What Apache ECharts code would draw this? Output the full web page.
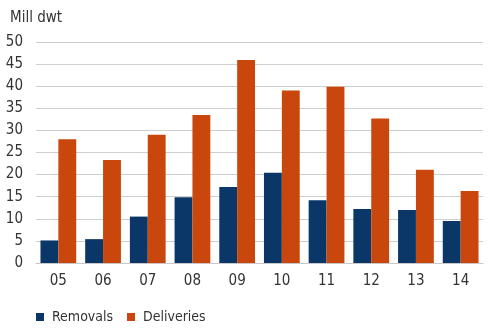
<!DOCTYPE html>
<html><head><meta charset="utf-8">
<script src="https://cdn.jsdelivr.net/npm/echarts@6/dist/echarts.min.js"></script>
<style>html,body{margin:0;padding:0;background:#fff}#c{width:492px;height:328px}</style>
</head><body><div id="c"></div>
<script>
const categories = ['05','06','07','08','09','10','11','12','13','14'];
const removals = [5.1, 5.4, 10.5, 14.9, 17.2, 20.4, 14.2, 12.2, 12.0, 9.5];
const deliveries = [28.0, 23.3, 29.0, 33.5, 45.9, 39.0, 39.9, 32.7, 21.1, 16.3];
const yTicks = [0,5,10,15,20,25,30,35,40,45,50];
const FONT = '"Liberation Sans Narrow","DejaVu Sans Condensed","Roboto Condensed",sans-serif';
const chart = echarts.init(document.getElementById('c'));
const legendBase = {top: 305, itemWidth: 8, itemHeight: 8, icon: 'rect',
  textStyle: {fontFamily: FONT, fontSize: 14, color: '#333', padding: [0,0,0,3]}};
chart.setOption({
  animation: false,
  textStyle: {fontFamily: FONT},
  graphic: [{type:'text', left: 10, top: 11, style:{text:'Mill dwt', font:'15px '+FONT, fill:'#333'}}],
  legend: [
    Object.assign({data: ['Removals'], left: 31}, legendBase),
    Object.assign({data: ['Deliveries'], left: 122}, legendBase)
  ],
  grid: {left: 36, right: 9, top: 42, bottom: 65, containLabel: false},
  xAxis: {
    type: 'category', data: categories,
    axisLine: {lineStyle: {color: '#c8c8c8'}}, axisTick: {show: false},
    axisLabel: {fontFamily: FONT, fontSize: 15, color: '#333', margin: 11}
  },
  yAxis: {
    type: 'value', min: yTicks[0], max: yTicks[yTicks.length-1], interval: 5,
    axisLine: {show: false}, axisTick: {show: false},
    splitLine: {lineStyle: {color: '#cfcfcf'}},
    axisLabel: {fontFamily: FONT, fontSize: 15, color: '#333', margin: 13}
  },
  series: [
    {name: 'Removals', type: 'bar', data: removals, itemStyle: {color: '#0b3768'}, barGap: '0%', barCategoryGap: '20%'},
    {name: 'Deliveries', type: 'bar', data: deliveries, itemStyle: {color: '#c9470c'}, barGap: '0%', barCategoryGap: '20%'}
  ]
});
</script></body></html>
